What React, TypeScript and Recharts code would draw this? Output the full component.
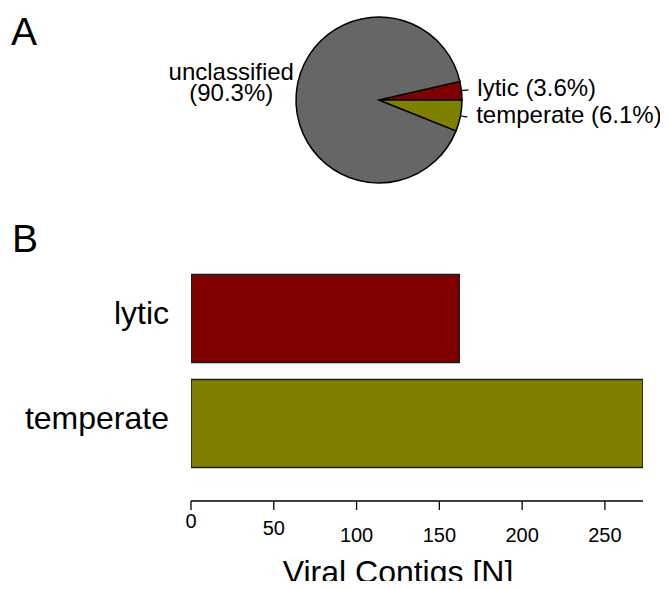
import React from 'react'
import { PieChart, Pie, Cell, BarChart, Bar, XAxis, YAxis } from 'recharts'

const FONT = '"Liberation Sans", Arial, Helvetica, sans-serif'

// panel A: share of viral contigs
const PIE_NAMES = ['lytic', 'unclassified', 'temperate']
const PIE_COUNTS = [162, 4063, 273]

// panel B: classified contigs only
const BAR_NAMES = ['lytic', 'temperate']
const BAR_COUNTS = [162, 273]
const X_TICKS = [0, 50, 100, 150, 200, 250]
const X_MAX = 273
const X_TITLE = 'Viral Contigs [N]'

const COLORES: Record<string, string> = {
  lytic: '#800000',
  unclassified: '#666666',
  temperate: '#808000',
}

const pieData = PIE_NAMES.map((name, i) => ({ name, value: PIE_COUNTS[i] }))
const barData = BAR_NAMES.map((name, i) => ({ name, value: BAR_COUNTS[i] }))

// pie labels: short radial tick, text outside the circle
function PieLabel(props: any) {
  const { cx, cy, midAngle, outerRadius, name, percent } = props
  const rad = Math.PI / 180
  const cos = Math.cos(-midAngle * rad)
  const sin = Math.sin(-midAngle * rad)
  const x1 = cx + outerRadius * cos
  const y1 = cy + outerRadius * sin
  const pct = `(${(percent * 100).toFixed(1)}%)`
  if (cos >= 0) {
    return (
      <g>
        <line x1={x1} y1={y1} x2={x1 + 7 * cos} y2={y1 + 7 * sin} stroke="#000" strokeWidth={1.2} />
        <text
          x={cx + (outerRadius + 16) * cos}
          y={cy + (outerRadius + 6) * sin - 2}
          fontSize={24}
          fontFamily={FONT}
          fill="#000"
          textAnchor="start"
          dominantBaseline="central"
        >
          {name} {pct}
        </text>
      </g>
    )
  }
  const xc = x1 - 65
  return (
    <g>
      <line x1={x1 - 3} y1={y1} x2={x1 + 3 * cos} y2={y1} stroke="#000" strokeWidth={1.2} />
      <text x={xc} y={y1 - 13.5} fontSize={24} fontFamily={FONT} fill="#000" textAnchor="middle">
        {name}
      </text>
      <text x={xc} y={y1 + 7.5} fontSize={24} fontFamily={FONT} fill="#000" textAnchor="middle">
        {pct}
      </text>
    </g>
  )
}

// the original has the first tick labels sitting a little higher
const TICK_DY = [16, 23, 30, 30, 30, 30]

function XTick(props: any) {
  const { x, y, payload, index } = props
  return (
    <text x={x} y={y} dy={TICK_DY[index] ?? 30} fontSize={20} fontFamily={FONT} fill="#000" textAnchor="middle">
      {payload.value}
    </text>
  )
}

function YTick(props: any) {
  const { y, payload } = props
  return (
    <text x={169} y={y} dy={6} fontSize={32} fontFamily={FONT} fill="#000" textAnchor="end">
      {payload.value}
    </text>
  )
}

export default function App() {
  return (
    <div style={{ position: 'relative', width: 668, height: 589, margin: -8, background: '#fff', overflow: 'hidden' }}>
      <div style={{ position: 'absolute', left: 0, top: 0 }}>
        <BarChart
          width={668}
          height={589}
          data={barData}
          layout="vertical"
          margin={{ top: 265.5, right: 25, bottom: 0, left: 0 }}
        >
          <XAxis
            type="number"
            domain={[0, X_MAX]}
            ticks={X_TICKS}
            allowDataOverflow
            height={88}
            axisLine={{ stroke: '#000', strokeWidth: 1.3 }}
            tickLine={{ stroke: '#000', strokeWidth: 1.3 }}
            tickSize={9}
            tick={<XTick />}
          />
          <YAxis
            type="category"
            dataKey="name"
            width={191}
            axisLine={false}
            tickLine={false}
            padding={{ top: 0, bottom: 25.5 }}
            tick={<YTick />}
          />
          <Bar dataKey="value" barSize={88} stroke="#1a1a1a" strokeWidth={1.5} isAnimationActive={false}>
            {barData.map((d) => (
              <Cell key={d.name} fill={COLORES[d.name]} />
            ))}
          </Bar>
        </BarChart>
      </div>
      <div style={{ position: 'absolute', left: 0, top: 0 }}>
        <PieChart width={668} height={200} margin={{ top: 0, right: 0, bottom: 0, left: 0 }}>
          <Pie
            data={pieData}
            dataKey="value"
            nameKey="name"
            cx={379}
            cy={100}
            outerRadius={83}
            startAngle={0}
            endAngle={360}
            stroke="#000"
            strokeWidth={1.5}
            label={PieLabel}
            labelLine={false}
            isAnimationActive={false}
          >
            {pieData.map((d) => (
              <Cell key={d.name} fill={COLORES[d.name]} />
            ))}
          </Pie>
        </PieChart>
      </div>
      <svg width={668} height={589} style={{ position: 'absolute', left: 0, top: 0, pointerEvents: 'none' }}>
        <text x={11} y={45} fontSize={39} fontFamily={FONT} fill="#000">A</text>
        <text x={12} y={252} fontSize={39} fontFamily={FONT} fill="#000">B</text>
        <text x={398} y={583} fontSize={32} fontFamily={FONT} fill="#000" textAnchor="middle">
          {X_TITLE}
        </text>
      </svg>
    </div>
  )
}
